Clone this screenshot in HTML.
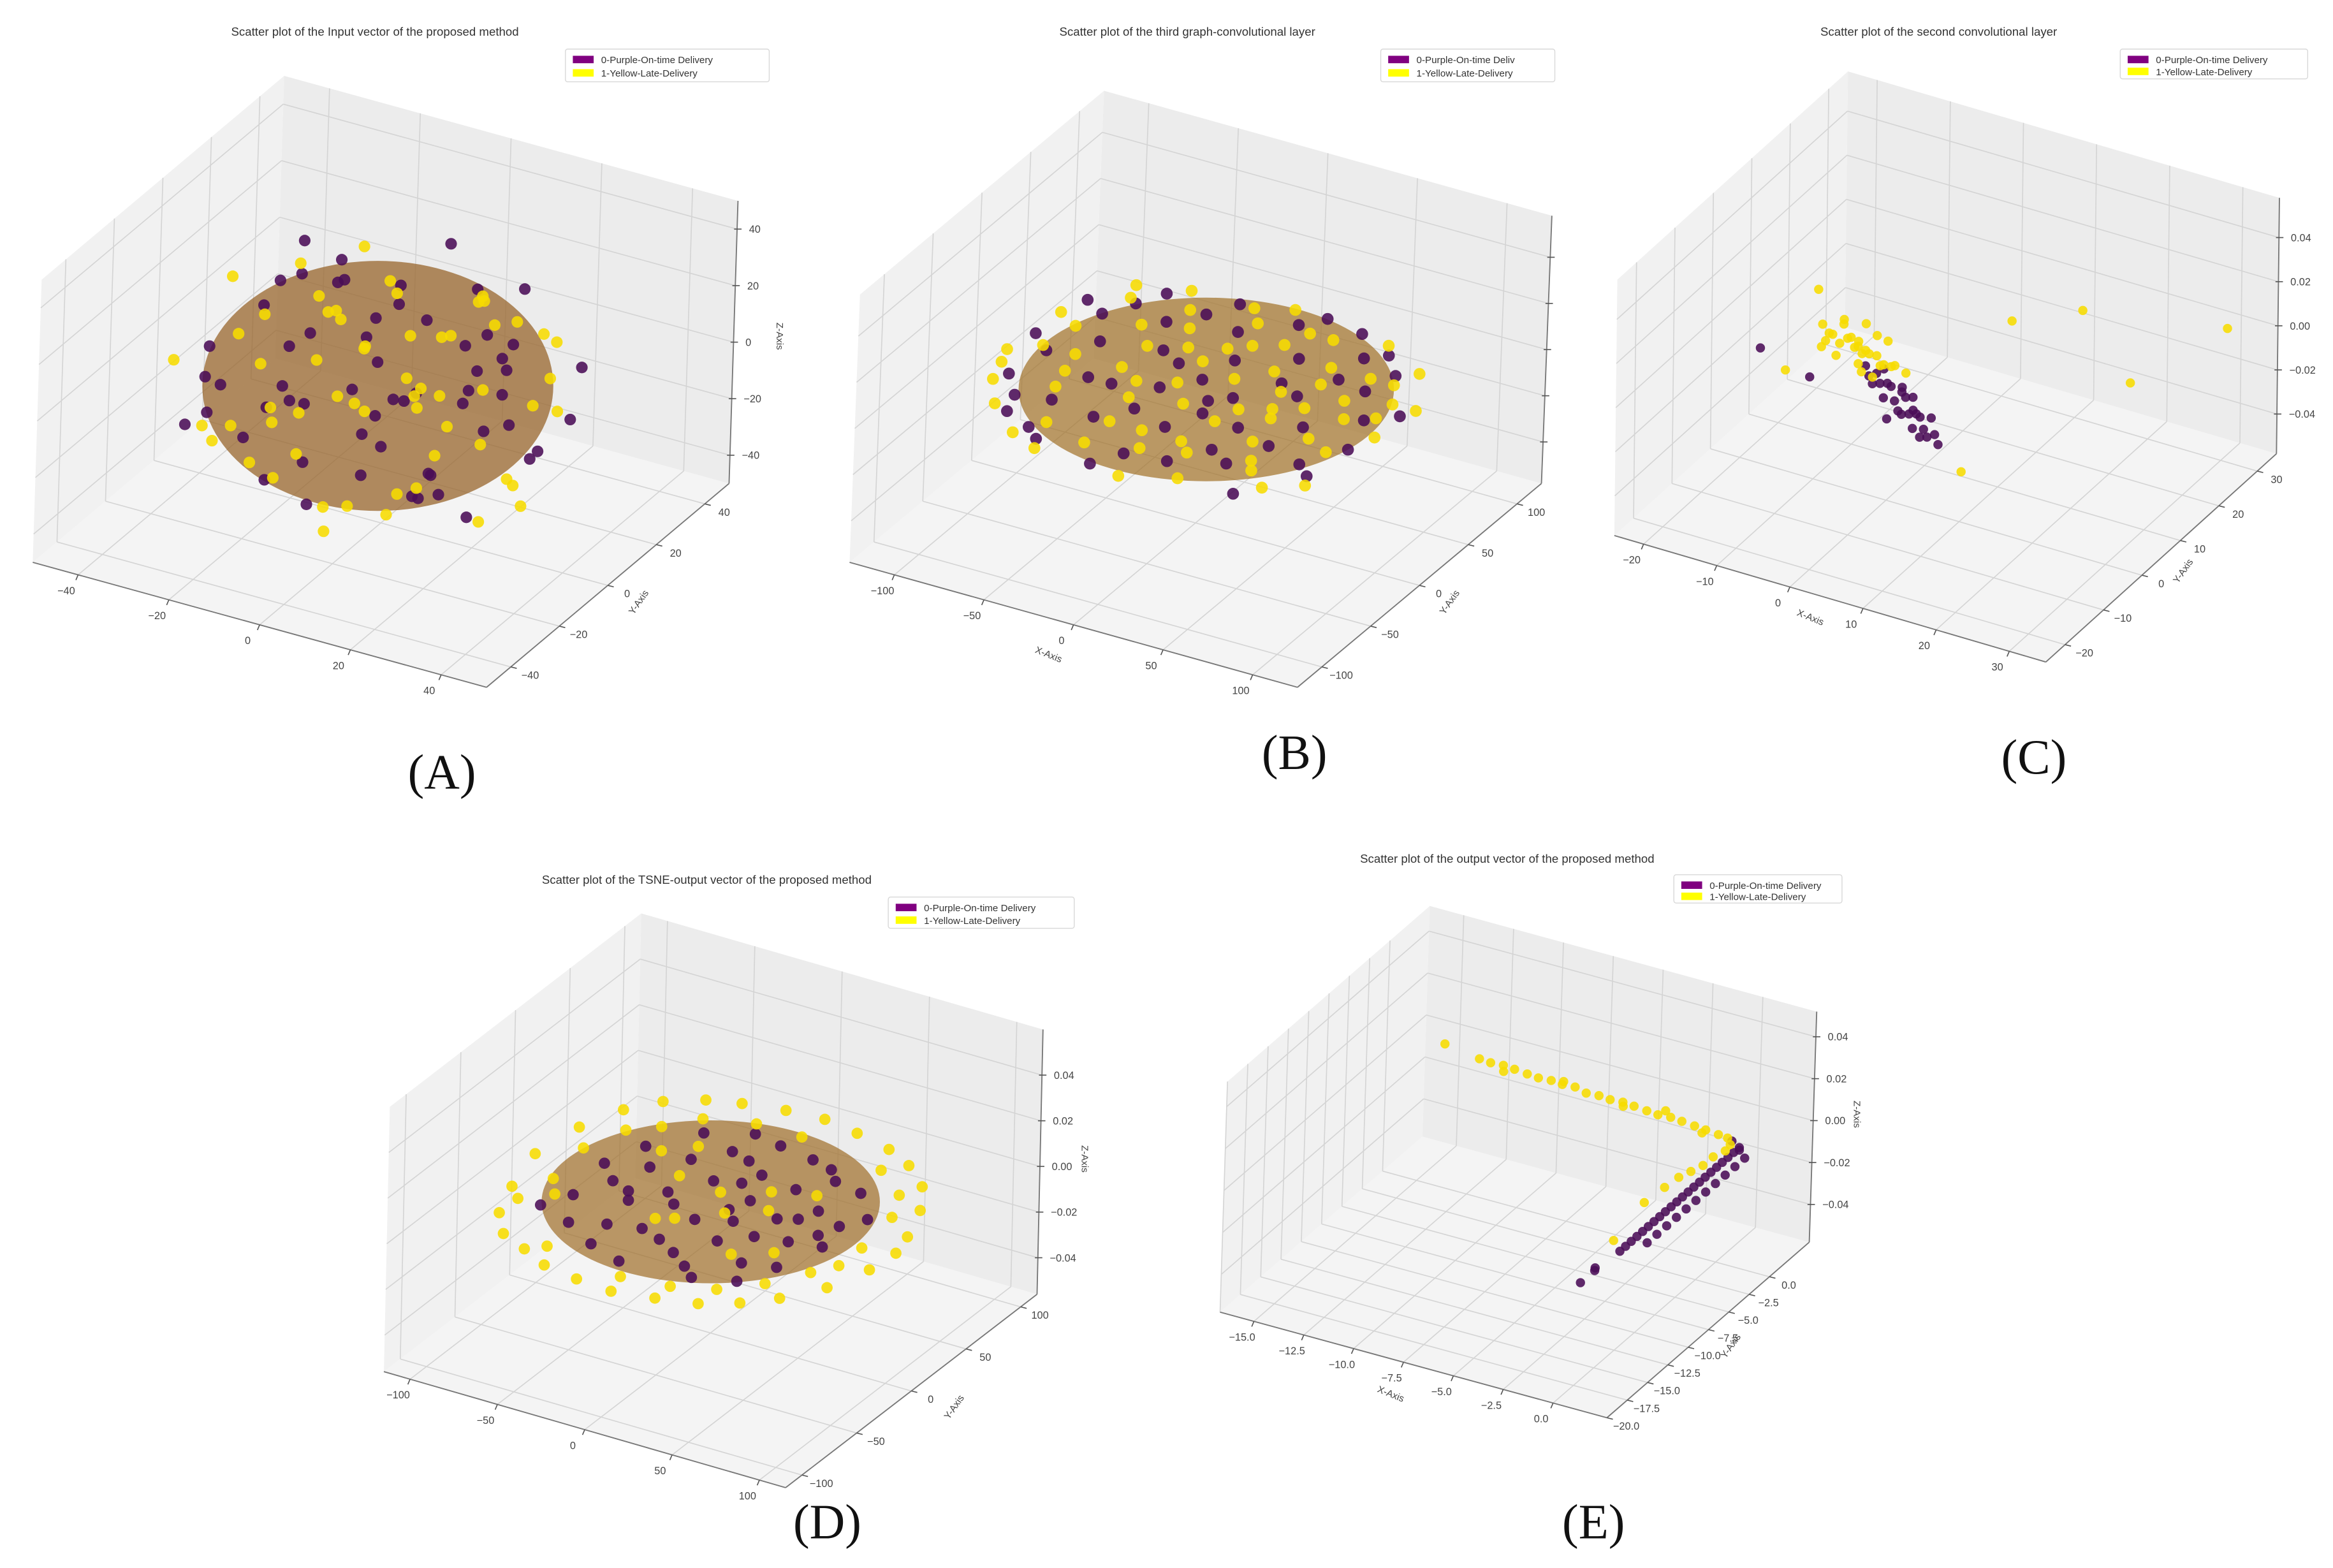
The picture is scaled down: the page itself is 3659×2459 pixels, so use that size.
<!DOCTYPE html>
<html><head><meta charset="utf-8"><title>3D scatter plots of learned features</title>
<style>html,body{margin:0;padding:0;background:#fff;}svg{display:block;font-family:"Liberation Sans",sans-serif;}</style>
</head><body>
<svg id="chart" width="3659" height="2459" viewBox="0 0 1568 1054" preserveAspectRatio="none" xmlns="http://www.w3.org/2000/svg">
<rect x="0" y="0" width="1568" height="1054" fill="#ffffff"/>
</svg>
<script>
// ---------- DATA ----------
const aTicks = [-40, -20, 0, 20, 40];
const aTickLabels = ["−40", "−20", "0", "20", "40"];
const aPurple = [[-34,-9,4],[-30,17,-13],[-26,-26,9],[-21,4,26],[-17,-17,-30],[-13,30,0],[-9,-4,34],[-4,21,-21],[0,-34,-4],[4,9,17],[9,-21,26],[13,26,-9],[17,-9,-26],[21,13,13],[26,-30,0],[30,4,-17],[34,-13,9],[-32,26,17],[-24,-13,-21],[-15,9,30],[-7,-30,17],[2,34,9],[10,-4,-34],[19,21,26],[27,-17,21],[36,9,-4],[-36,0,-17],[-27,-32,-4],[-19,32,-9],[-10,-21,4],[-2,0,-13],[7,-10,4],[15,4,-4],[24,-4,30],[32,21,4],[-31,10,-30],[-22,24,9],[-14,-7,-9],[-5,15,21],[3,-15,-21],[12,19,-26],[20,-26,-13],[29,-7,26],[-26,-2,17],[-17,19,-24],[-9,-15,24],[0,26,30],[9,2,-30],[17,-34,9],[26,15,-24],[-29,-19,-10],[-20,-7,32],[-12,14,-34],[-3,-26,-26],[5,29,-15],[14,-19,13],[22,7,0],[31,-24,-17],[-7,5,9],[10,14,7]];
const aYellow = [[-36,7,-4],[-31,-17,-17],[-26,13,21],[-22,-30,-9],[-19,0,-34],[-15,-24,17],[-12,24,13],[-9,9,-21],[-5,-10,27],[-2,31,-7],[2,-24,13],[5,17,-26],[9,-32,-17],[12,0,21],[15,26,9],[19,-15,-7],[22,10,-32],[26,-9,15],[29,17,-10],[32,-21,7],[36,0,17],[-34,-24,10],[-29,27,-2],[-24,-10,-32],[-20,17,4],[-17,-32,0],[-14,2,17],[-10,-27,-19],[-7,26,-27],[-3,-7,-4],[0,10,9],[3,-2,34],[7,32,0],[10,-13,-26],[14,13,27],[17,-24,26],[20,24,-17],[24,-32,-4],[27,3,-27],[31,12,19],[34,-7,-24],[-32,-4,26],[-27,4,-24],[-22,32,15],[-17,-19,30],[-12,-13,-7],[-7,-34,7],[-2,19,-17],[3,-30,-30],[9,21,17],[14,-4,4],[19,4,34],[24,20,13],[29,-15,-26],[-10,10,0],[5,4,-10],[-3,-19,-32],[15,-27,-21],[-26,21,-19],[0,-9,19]];

const bTicks = [-100, -50, 0, 50, 100];
const bTickLabels = ["−100", "−50", "0", "50", "100"];
const bZTicks = [-1, -0.5, 0, 0.5, 1];
const bPurple = [[-97,9],[-88,-35],[-79,44],[-70,-70],[-66,18],[-62,79],[-53,-18],[-48,53],[-44,-88],[-35,26],[-31,-53],[-26,88],[-18,-9],[-13,62],[-9,-97],[0,35],[4,-44],[9,84],[18,0],[22,-75],[26,53],[35,-26],[40,92],[44,18],[48,-62],[53,70],[62,-9],[66,-88],[70,40],[79,-44],[84,13],[92,-18],[97,26],[-84,-4],[-75,-53],[-57,-48],[-40,-18],[-22,18],[-4,9],[13,-22],[31,26],[57,-35],[75,62],[-92,53],[-53,-79],[0,-79],[18,97],[-35,70],[53,44],[88,-53],[-18,-35],[35,-53],[-70,62],[9,-9],[62,79]];
const bYellow = [[-101,-13],[-97,35],[-92,-44],[-84,26],[-79,-66],[-75,66],[-70,0],[-62,-35],[-57,44],[-53,88],[-48,-70],[-44,0],[-40,-97],[-35,53],[-26,-26],[-26,35],[-22,-79],[-18,88],[-13,0],[-9,44],[-4,-53],[0,97],[0,-18],[9,18],[9,-101],[13,62],[18,-53],[22,35],[26,-9],[31,79],[35,-88],[40,0],[44,53],[48,-35],[53,9],[57,88],[62,-62],[66,26],[70,-18],[75,-75],[79,53],[84,-26],[88,18],[92,-62],[97,0],[101,35],[-88,0],[-66,-18],[-44,26],[-22,-53],[0,53],[22,-26],[44,-9],[66,53],[88,35],[-79,79],[-31,-9],[-9,75],[26,-62],[48,35],[75,9],[-57,-88],[4,-70],[35,18],[-44,70],[57,-53],[84,70],[-97,-26],[-13,26],[18,79]];

const cTicks = [-20, -10, 0, 10, 20, 30];
const cTickLabels = ["−20", "−10", "0", "10", "20", "30"];
const smallZTicks = [-0.04, -0.02, 0, 0.02, 0.04];
const smallZLabels = ["−0.04", "−0.02", "0.00", "0.02", "0.04"];
const cYellow = [[-8,0,0.01],[-7,-1,0.012],[-6,1,0.008],[-6,-2,0.005],[-5,0,0.011],[-5,2,0.006],[-4,-1,0.009],[-4,1,0.003],[-3,0,0.007],[-3,-2,0.012],[-2,1,0.004],[-2,-1,0.008],[-1,0,0.002],[-1,2,0.01],[0,-1,0.005],[0,1,0.001],[1,0,0.004],[-7,2,0.014],[-5,-3,0.013],[-3,3,0.009],[-6,0,0.016],[-4,2,0.015],[-2,-3,0.003],[-8,-2,0.007],[-1,-2,0.0],[2,1,0.0],[-4,0,0.0],[-9,1,0.004],[-6.6,-5.6,0.04],[-4.7,-8.1,0.03],[7,19.1,0],[13.1,25.9,0],[30.1,31.2,0],[21.3,22.8,-0.02],[9,2.3,-0.04],[-10.8,-6,0]];
const cPurple = [[-3,0,0],[-2,-1,-0.002],[-2,1,-0.004],[-1,0,-0.006],[-1,-2,-0.003],[0,1,-0.008],[0,-1,-0.01],[1,0,-0.012],[1,2,-0.009],[2,-1,-0.014],[2,1,-0.011],[3,0,-0.016],[3,-2,-0.013],[4,1,-0.018],[4,-1,-0.02],[5,0,-0.021],[5,2,-0.019],[6,1,-0.024],[6,-1,-0.022],[-1,1,-0.001],[0,0,-0.005],[2,0,-0.007],[3,1,-0.01],[4,0,-0.015],[1,-2,-0.017],[5,-1,-0.023],[-15.9,-2.8,0],[-8,-5,-0.002],[7,0,-0.026],[2,3,-0.02]];

const dTicks = [-100, -50, 0, 50, 100];
const dTickLabels = ["−100", "−50", "0", "50", "100"];
const dPurple = [[-68,9],[-64,-26],[-60,34],[-51,-51],[-47,17],[-43,60],[-38,-17],[-34,34],[-30,-64],[-26,0],[-21,51],[-17,-38],[-13,21],[-9,-72],[-4,68],[0,-17],[4,38],[9,-51],[13,13],[17,64],[21,-30],[26,34],[30,-68],[34,4],[38,51],[43,-43],[47,21],[51,-13],[55,47],[60,-38],[64,13],[68,-9],[-55,-4],[-17,-9],[0,26],[17,-9],[34,-17],[-34,-43],[-9,47],[30,60],[51,-60],[-72,-43],[72,26],[-4,-43],[43,9],[-43,-9],[9,0],[-21,72],[21,-60],[60,0]];
const dYellow = [[-102,0],[-98,34],[-94,-34],[-89,60],[-85,-60],[-77,77],[-72,-77],[-60,89],[-55,-85],[-43,95],[-38,-94],[-21,100],[-17,-98],[0,102],[4,-100],[21,98],[26,-95],[43,92],[47,-89],[60,83],[64,-78],[77,68],[78,-64],[89,47],[92,-43],[98,21],[100,-17],[102,4],[-85,17],[-81,-17],[-77,43],[-72,-30],[85,0],[81,34],[77,-34],[-51,72],[51,72],[-47,-77],[47,-72],[0,81],[0,-85],[-26,81],[26,-81],[9,-4],[-4,13],[17,26],[-17,-26],[-51,34],[51,-26],[34,-38],[-30,17],[26,9],[-9,-21],[38,34],[-38,47],[64,-55],[-64,55],[-85,-43],[85,-21],[72,55]];

const eXTicks = [-15, -12.5, -10, -7.5, -5, -2.5, 0];
const eXLabels = ["−15.0", "−12.5", "−10.0", "−7.5", "−5.0", "−2.5", "0.0"];
const eYTicks = [-20, -17.5, -15, -12.5, -10, -7.5, -5, -2.5, 0];
const eYLabels = ["−20.0", "−17.5", "−15.0", "−12.5", "−10.0", "−7.5", "−5.0", "−2.5", "0.0"];
const eYellow = [[-14,0.5,0.008],[-12.3,0.6,0.005],[-11.7,0.5,0.005],[-11.1,0.6,0.005],[-10.5,0.5,0.005],[-9.9,0.6,0.004],[-9.3,0.5,0.004],[-8.7,0.6,0.004],[-8.1,0.5,0.004],[-7.5,0.6,0.004],[-6.9,0.5,0.003],[-6.3,0.6,0.003],[-5.7,0.5,0.003],[-5.1,0.6,0.003],[-4.5,0.5,0.003],[-3.9,0.6,0.002],[-3.3,0.5,0.002],[-2.7,0.6,0.002],[-2.1,0.5,0.002],[-1.5,0.6,0.001],[-0.9,0.5,0.001],[-0.3,0.6,0.0],[0.2,0.5,0.0],[0.5,0.1,-0.001],[0.5,-0.5,-0.002],[0.3,-1.5,-0.002],[0.2,-2.5,-0.003],[0,-3.5,-0.003],[-0.2,-4.5,-0.003],[-0.3,-6,-0.003],[-0.5,-8,-0.004],[0,-13,-0.004],[-11,0.4,0.003],[-8,0.4,0.006],[-5,0.4,0.002],[-3,0.7,0.004],[-1,0.3,0.0]];
const ePurple = [[0.8,0.5,-0.003],[0.8,-0.2,-0.003],[0.8,-0.9,-0.003],[0.8,-1.6,-0.003],[0.8,-2.3,-0.003],[0.8,-3,-0.003],[0.8,-3.7,-0.003],[0.8,-4.4,-0.003],[0.8,-5.1,-0.003],[0.8,-5.8,-0.003],[0.8,-6.5,-0.003],[0.8,-7.2,-0.003],[0.8,-7.9,-0.003],[0.8,-8.6,-0.003],[0.8,-9.3,-0.003],[0.8,-10,-0.003],[0.8,-10.7,-0.003],[0.8,-11.4,-0.003],[0.8,-12.1,-0.003],[0.8,-12.8,-0.003],[0.8,-13.5,-0.003],[0.8,-14.2,-0.003],[1.2,0.2,-0.006],[1.2,-1,-0.006],[1.2,-2.2,-0.006],[1.2,-3.4,-0.006],[1.2,-4.6,-0.006],[1.2,-5.8,-0.006],[1.2,-7,-0.006],[1.2,-8.2,-0.006],[1.2,-9.4,-0.006],[1.2,-10.6,-0.006],[1.2,-11.8,-0.006],[0.5,-16.5,-0.004],[0.6,-16.8,-0.004],[0.5,-18.3,-0.005],[0.5,0.3,0.0],[1,0,-0.002]];

// ---------- RENDERING ----------
const NS = 'http://www.w3.org/2000/svg';
const svg = document.getElementById('chart');
function mk(tag, attrs, parent) {
  const e = document.createElementNS(NS, tag);
  for (const k in attrs) e.setAttribute(k, attrs[k]);
  (parent || svg).appendChild(e);
  return e;
}
const PURPLE = '#4a0d57', YELLOW = '#f7dc00';
function pts3(arr) { return arr.map(p => [p[0], p[1], p.length > 2 ? p[2] : 0]); }

const panels = [
 {id:'a', title:'Scatter plot of the Input vector of the proposed method', tx:252, ty:24,
  L:[22,378], F:[327,462], R:[490,325], H:[6,-190], x:[-50,50], y:[-50,50], z:[-50,50],
  xt:aTicks, xl:aTickLabels, yt:aTicks, yl:aTickLabels, zt:aTicks, zl:aTickLabels,
  leg:[380,33,137,22], legText:['0-Purple-On-time Delivery','1-Yellow-Late-Delivery'],
  purple:pts3(aPurple), yellow:pts3(aYellow), r:3.9, hull:0.86, hop:0.75,
  titles:[{t:'Y-Axis',x:431,y:406,rot:-55},{t:'Z-Axis',x:522,y:226,rot:90}], letter:['(A)',297,530]},
 {id:'b', title:'Scatter plot of the third graph-convolutional layer', tx:798, ty:24,
  L:[571,378], F:[872,462], R:[1036,325], H:[7,-180], x:[-125,125], y:[-125,125], z:[-1.45,1.45],
  xt:bTicks, xl:bTickLabels, yt:bTicks, yl:bTickLabels, zt:bZTicks, zl:null,
  leg:[928,33,117,22], legText:['0-Purple-On-time Deliv','1-Yellow-Late-Delivery'],
  purple:pts3(bPurple), yellow:pts3(bYellow), r:4, hull:0.88, hop:0.7,
  titles:[{t:'X-Axis',x:704,y:442,rot:22},{t:'Y-Axis',x:976,y:406,rot:-55}], letter:['(B)',870,517]},
 {id:'c', title:'Scatter plot of the second convolutional layer', tx:1303, ty:24,
  L:[1085,360], F:[1375,445], R:[1530,305], H:[2,-172], x:[-24,35], y:[-25,35], z:[-0.058,0.058],
  xt:cTicks, xl:cTickLabels, yt:cTicks, yl:cTickLabels, zt:smallZTicks, zl:smallZLabels,
  leg:[1425,33,126,20], legText:['0-Purple-On-time Delivery','1-Yellow-Late-Delivery'],
  purple:pts3(cPurple), yellow:pts3(cYellow), r:3.1, hull:0,
  titles:[{t:'X-Axis',x:1216,y:417,rot:22},{t:'Y-Axis',x:1469,y:385,rot:-55}], letter:['(C)',1367,520]},
 {id:'d', title:'Scatter plot of the TSNE-output vector of the proposed method', tx:475, ty:594,
  L:[258,922], F:[528,1000], R:[697,870], H:[4,-178], x:[-115,115], y:[-115,115], z:[-0.056,0.06],
  xt:dTicks, xl:dTickLabels, yt:dTicks, yl:dTickLabels, zt:smallZTicks, zl:smallZLabels,
  leg:[597,603,125,21], legText:['0-Purple-On-time Delivery','1-Yellow-Late-Delivery'],
  purple:pts3(dPurple), yellow:pts3(dYellow), r:3.8, hull:0.8, hop:0.7,
  titles:[{t:'Y-Axis',x:643,y:947,rot:-55},{t:'Z-Axis',x:727,y:779,rot:90}], letter:['(D)',556,1034]},
 {id:'e', title:'Scatter plot of the output vector of the proposed method', tx:1013, ty:580,
  L:[820,882], F:[1080,953], R:[1216,835], H:[5,-155], x:[-16.7,2.7], y:[-20,4.9], z:[-0.058,0.052],
  xt:eXTicks, xl:eXLabels, yt:eYTicks, yl:eYLabels, zt:smallZTicks, zl:smallZLabels,
  leg:[1125,588,113,19], legText:['0-Purple-On-time Delivery','1-Yellow-Late-Delivery'],
  purple:pts3(ePurple), yellow:pts3(eYellow), r:3.1, hull:0,
  titles:[{t:'X-Axis',x:934,y:939,rot:22},{t:'Y-Axis',x:1165,y:906,rot:-55},{t:'Z-Axis',x:1246,y:749,rot:90}], letter:['(E)',1071,1034]}
];

function line(g, a, b, stroke, w) { return mk('line', {x1:a[0], y1:a[1], x2:b[0], y2:b[1], stroke:stroke, 'stroke-width':w}, g); }
function poly(g, ps, fill) { return mk('polygon', {points: ps.map(p => p[0].toFixed(2)+','+p[1].toFixed(2)).join(' '), fill:fill, stroke:'none'}, g); }

panels.forEach(P => {
  const g = mk('g', {});
  
  
  const [x0,x1] = P.x, [y0,y1] = P.y, [z0,z1] = P.z;
  const pr = (x, y, z) => {
    const u = (x-x0)/(x1-x0), v = (y-y0)/(y1-y0), w = (z-z0)/(z1-z0);
    return [P.L[0] + u*(P.F[0]-P.L[0]) + v*(P.R[0]-P.F[0]) + w*P.H[0],
            P.L[1] + u*(P.F[1]-P.L[1]) + v*(P.R[1]-P.F[1]) + w*P.H[1]];
  };
  const floor = poly(g, [pr(x0,y0,z0), pr(x1,y0,z0), pr(x1,y1,z0), pr(x0,y1,z0)], '#f4f4f4');
  
  
  const lw = poly(g, [pr(x0,y0,z0), pr(x0,y1,z0), pr(x0,y1,z1), pr(x0,y0,z1)], '#f1f1f1');
  
  
  const bw = poly(g, [pr(x0,y1,z0), pr(x1,y1,z0), pr(x1,y1,z1), pr(x0,y1,z1)], '#ececec');
  
  
  const gc = '#d4d4d4', gw = 0.7;
  P.xt.forEach(x => { line(g, pr(x,y0,z0), pr(x,y1,z0), gc, gw); line(g, pr(x,y1,z0), pr(x,y1,z1), gc, gw); });
  P.yt.forEach(y => { line(g, pr(x0,y,z0), pr(x1,y,z0), gc, gw); line(g, pr(x0,y,z0), pr(x0,y,z1), gc, gw); });
  P.zt.forEach(z => { line(g, pr(x0,y0,z), pr(x0,y1,z), gc, gw); line(g, pr(x0,y1,z), pr(x1,y1,z), gc, gw); });
  const ax = line(g, pr(x0,y0,z0), pr(x1,y0,z0), '#777', 0.8);
  
  
  const ay = line(g, pr(x1,y0,z0), pr(x1,y1,z0), '#777', 0.8);
  
  
  const az = line(g, pr(x1,y1,z0), pr(x1,y1,z1), '#777', 0.8);
  
  
  P.xt.forEach((x, i) => {
    const p = pr(x,y0,z0);
    line(g, p, [p[0]-1.5, p[1]+3.5], '#555', 0.7);
    const t = mk('text', {x:p[0]-8, y:p[1]+13, 'font-size':7, fill:'#444', 'text-anchor':'middle'}, g);
    t.textContent = P.xl[i];
    
    
  });
  P.yt.forEach((y, i) => {
    const p = pr(x1,y,z0);
    line(g, p, [p[0]+4, p[1]+1], '#555', 0.7);
    const t = mk('text', {x:p[0]+13, y:p[1]+8, 'font-size':7, fill:'#444', 'text-anchor':'middle'}, g);
    t.textContent = P.yl[i];
    
    
  });
  P.zt.forEach((z, i) => {
    const p = pr(x1,y1,z);
    line(g, [p[0]-2, p[1]], [p[0]+3, p[1]], '#555', 0.7);
    if (P.zl) {
      const t = mk('text', {x:p[0]+8, y:p[1]+2.5, 'font-size':7, fill:'#444', 'text-anchor':'start'}, g);
      t.textContent = P.zl[i];
      
      
    }
  });
  const pp = P.purple.map(p => pr(p[0],p[1],p[2])), yp = P.yellow.map(p => pr(p[0],p[1],p[2]));
  if (P.hull) {
    const all = pp.concat(yp);
    const xs = all.map(p => p[0]), ys = all.map(p => p[1]);
    const mnx = Math.min(...xs), mxx = Math.max(...xs), mny = Math.min(...ys), mxy = Math.max(...ys);
    const np = pp.length, ny = yp.length, wy = ny/(np+ny);
    const col = 'rgb(' + Math.round(74*(1-wy)+230*wy) + ',' + Math.round(13*(1-wy)+190*wy) + ',' + Math.round(87*(1-wy)) + ')';
    const h = mk('ellipse', {cx:(mnx+mxx)/2, cy:(mny+mxy)/2, rx:(mxx-mnx)/2*P.hull, ry:(mxy-mny)/2*P.hull, fill:col, opacity:P.hop}, g);
    
    
  }
  const sg = mk('g', {}, g);
  
  
  pp.forEach(p => {
    const c = mk('circle', {cx:p[0].toFixed(2), cy:p[1].toFixed(2), r:P.r, fill:PURPLE, 'fill-opacity':0.88}, sg);
    
    
  });
  yp.forEach(p => {
    const c = mk('circle', {cx:p[0].toFixed(2), cy:p[1].toFixed(2), r:P.r, fill:YELLOW, 'fill-opacity':0.88}, sg);
    
    
  });
  const tt = mk('text', {x:P.tx, y:P.ty, 'font-size':8, fill:'#333', 'text-anchor':'middle'}, g);
  tt.textContent = P.title;
  
  
  const lg = mk('g', {}, g);
  
  
  const [lx, ly, lwid, lh] = P.leg;
  mk('rect', {x:lx, y:ly, width:lwid, height:lh, fill:'#fff', stroke:'#d8d8d8', 'stroke-width':0.6, rx:1.5}, lg);
  const sw = ['#800080', '#ffff00'];
  P.legText.forEach((txt, i) => {
    const yy = ly + 3 + i*(lh-4)/2;
    const s = mk('rect', {x:lx+5, y:yy+1.5, width:14, height:5, fill:sw[i]}, lg);
    
    
    const t = mk('text', {x:lx+24, y:yy+6.5, 'font-size':6.5, fill:'#333'}, lg);
    t.textContent = txt;
    
    
  });
  P.titles.forEach(a => {
    const t = mk('text', {x:a.x, y:a.y, 'font-size':6.5, fill:'#444', 'text-anchor':'middle', transform:'rotate(' + a.rot + ' ' + a.x + ' ' + a.y + ')'}, g);
    t.textContent = a.t;
    
    
  });
  const lt = mk('text', {x:P.letter[1], y:P.letter[2], 'font-size':33, fill:'#111', 'text-anchor':'middle', 'font-family':'"Liberation Serif", serif'}, g);
  lt.textContent = P.letter[0];
  
  
});
</script>
</body></html>
